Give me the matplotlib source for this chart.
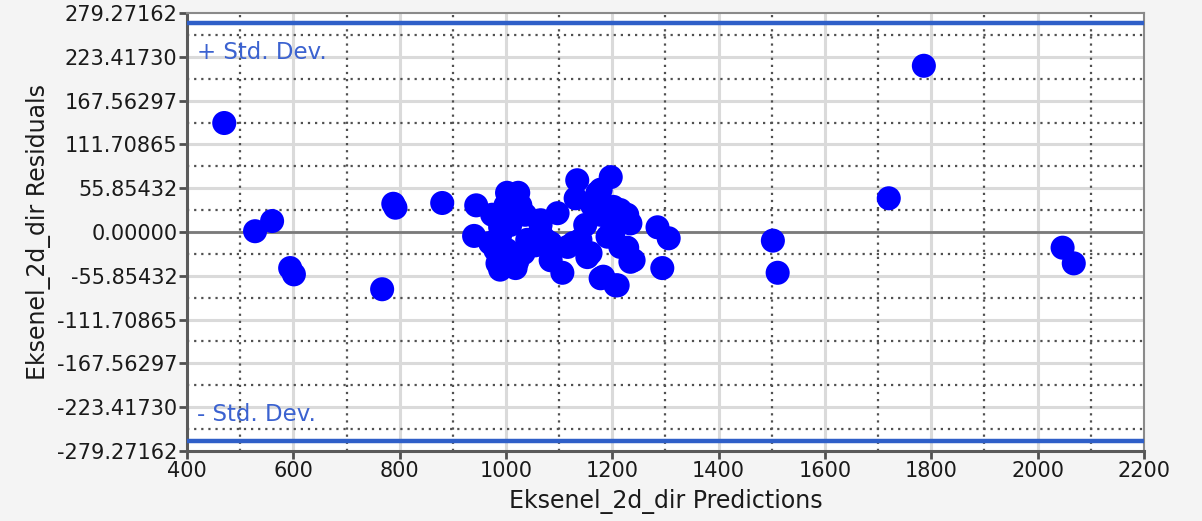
import numpy as np
import matplotlib
matplotlib.use("Agg")
import matplotlib.pyplot as plt
from matplotlib.ticker import FixedLocator

# Predicted values and residuals
predictions = [470, 528, 560, 594, 601, 767, 788, 792, 880, 944, 940,
               1134, 1197, 1131, 1002, 1023, 1178, 1285, 1306, 1294,
               1106, 1178, 1206, 984, 1021, 1234, 1228, 1097, 1228,
               1065, 989, 1127, 1078, 1153, 1202, 1172, 1202, 1040,
               970, 1002, 1033, 1215, 1065,
               974, 989, 1008, 1036, 1065, 980, 999, 1027, 1055, 1074,
               989, 1018, 999, 1027,
               1084, 1084, 1116, 1140, 1159, 1191, 1172, 1215, 1234,
               1240, 1183, 1210, 1178, 1149, 1200, 1162,
               1502, 1511, 1720, 1786, 2047, 2068]
residuals = [139, 1, 14, -46, -54, -73, 36, 31, 37, 34, -5,
             66, 70, 43, 50, 50, 54, 6, -8, -46,
             -52, -59, -68, -40, -38, -38, -20, 24, 22,
             15, 6, -14, -19, -32, -1, 24, 32, -10,
             -14, -23, -27, -19, -1,
             22, -4, 9, 22, 9, -23, -36, -29, -17, -10,
             -48, -46, 34, 34,
             -14, -36, -19, -10, -27, -6, 50, 28, 11,
             -36, -57, -68, 22, 9, 9, 34,
             -11, -52, 43, 212, -20, -40]

std_dev = 267.0
y_ticks = [-279.27162, -223.41730, -167.56297, -111.70865, -55.85432, 0.0,
           55.85432, 111.70865, 167.56297, 223.41730, 279.27162]
y_tick_labels = ["-279.27162", "-223.41730", "-167.56297", "-111.70865", "-55.85432",
                 "0.00000", "55.85432", "111.70865", "167.56297", "223.41730", "279.27162"]
x_ticks = [400, 600, 800, 1000, 1200, 1400, 1600, 1800, 2000, 2200]
x_label = "Eksenel_2d_dir Predictions"
y_label = "Eksenel_2d_dir Residuals"

fig = plt.figure(figsize=(12.02, 5.21), dpi=100, facecolor="#f4f4f4")
ax = fig.add_axes([0.1556, 0.1344, 0.7961, 0.8406])
ax.set_facecolor("white")

ax.set_xlim(x_ticks[0], x_ticks[-1])
ax.set_ylim(y_ticks[0], y_ticks[-1])

# major grid (solid light gray) and minor grid (dotted dark)
for xv in x_ticks[1:-1]:
    ax.axvline(xv, color="#dadada", lw=2.2, zorder=0)
for yv in y_ticks[1:-1]:
    ax.axhline(yv, color="#dadada", lw=2.2, zorder=0)
for a, b in zip(x_ticks[:-1], x_ticks[1:]):
    ax.axvline((a + b) / 2, color="#505050", lw=1.6, ls=(0, (1, 2.2)), zorder=1)
for a, b in zip(y_ticks[:-1], y_ticks[1:]):
    ax.axhline((a + b) / 2, color="#505050", lw=1.6, ls=(0, (1, 2.2)), zorder=1)

ax.axhline(0, color="#7a7a7a", lw=2.0, zorder=2)

# standard deviation bands
ax.axhline(std_dev, color="#2f5fc8", lw=3.2, zorder=3)
ax.axhline(-std_dev, color="#2f5fc8", lw=3.2, zorder=3)
ax.text(418, 229, "+ Std. Dev.", color="#3b62d0", fontsize=16.5, va="center", ha="left",
        zorder=4)
ax.text(418, -233, "- Std. Dev.", color="#3b62d0", fontsize=16.5, va="center", ha="left",
        zorder=4)

ax.scatter(predictions, residuals, s=300, color="#0000ff", edgecolors="none", zorder=5)

ax.xaxis.set_major_locator(FixedLocator(x_ticks))
ax.yaxis.set_major_locator(FixedLocator(y_ticks))
ax.set_yticklabels(y_tick_labels)
ax.tick_params(axis="both", which="major", length=6, width=2, color="#505050",
               labelsize=15, labelcolor="#1a1a1a", pad=1)

for side in ["left", "bottom"]:
    ax.spines[side].set_color("#5a5a5a")
    ax.spines[side].set_linewidth(2.2)
for side in ["right", "top"]:
    ax.spines[side].set_color("#8a8a8a")
    ax.spines[side].set_linewidth(1.5)

ax.set_xlabel(x_label, fontsize=17, color="#1a1a1a", labelpad=6)
ax.set_ylabel(y_label, fontsize=17, color="#1a1a1a", labelpad=4)

fig.savefig("out.png", dpi=100, facecolor=fig.get_facecolor())
